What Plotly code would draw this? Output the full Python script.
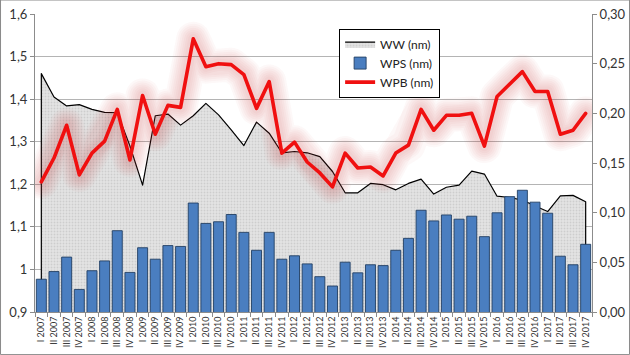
import plotly.graph_objects as go

quarters = [
    "I 2007", "II 2007", "III 2007", "IV 2007",
    "I 2008", "II 2008", "III 2008", "IV 2008",
    "I 2009", "II 2009", "III 2009", "IV 2009",
    "I 2010", "II 2010", "III 2010", "IV 2010",
    "I 2011", "II 2011", "III 2011", "IV 2011",
    "I 2012", "II 2012", "III 2012", "IV 2012",
    "I 2013", "II 2013", "III 2013", "IV 2013",
    "I 2014", "II 2014", "III 2014", "IV 2014",
    "I 2015", "II 2015", "III 2015", "IV 2015",
    "I 2016", "II 2016", "III 2016", "IV 2016",
    "I 2017", "II 2017", "III 2017", "IV 2017",
]

ww = [1.460, 1.405, 1.384, 1.387, 1.376, 1.369, 1.368, 1.290, 1.198, 1.361,
      1.365, 1.339, 1.361, 1.390, 1.363, 1.328, 1.291, 1.346, 1.320, 1.274,
      1.277, 1.274, 1.265, 1.230, 1.180, 1.180, 1.202, 1.199, 1.187, 1.202,
      1.212, 1.177, 1.193, 1.198, 1.231, 1.224, 1.172, 1.169, 1.163, 1.149,
      1.136, 1.173, 1.174, 1.159]

wps = [0.977, 0.995, 1.029, 0.953, 0.997, 1.020, 1.091, 0.993, 1.051, 1.024,
       1.056, 1.054, 1.156, 1.108, 1.112, 1.129, 1.087, 1.045, 1.087, 1.024,
       1.032, 1.013, 0.983, 0.961, 1.017, 0.992, 1.011, 1.009, 1.045, 1.073,
       1.139, 1.114, 1.128, 1.118, 1.125, 1.077, 1.133, 1.171, 1.186, 1.158,
       1.132, 1.031, 1.011, 1.059]

wpb = [0.131, 0.155, 0.188, 0.138, 0.160, 0.172, 0.204, 0.153, 0.218, 0.179,
       0.208, 0.206, 0.275, 0.247, 0.250, 0.249, 0.239, 0.205, 0.232, 0.160,
       0.171, 0.151, 0.140, 0.126, 0.160, 0.145, 0.146, 0.137, 0.160, 0.168,
       0.204, 0.183, 0.198, 0.198, 0.200, 0.167, 0.217, 0.230, 0.242, 0.222,
       0.222, 0.179, 0.183, 0.200]

LEFT_MIN, LEFT_MAX = 0.9, 1.6
RIGHT_MIN, RIGHT_MAX = 0.0, 0.30

FONT = "Lato"
fig = go.Figure()

# WW area (closed polygon down to the axis minimum)
fig.add_trace(go.Scatter(
    x=[quarters[0]] + quarters + [quarters[-1]],
    y=[LEFT_MIN] + ww + [LEFT_MIN],
    mode="lines", fill="toself", name="WW (nm)",
    line=dict(color="black", width=1.2),
    fillcolor="#e2e2e2",
    fillpattern=dict(shape=".", bgcolor="#e3e3e3", fgcolor="#b8b8b8",
                     size=3, solidity=0.3),
    xaxis="x", yaxis="y", hoverinfo="skip",
))

# WPS bars (left scale, drawn on an overlay so they sit above the area)
fig.add_trace(go.Bar(
    x=quarters, y=wps, name="WPS (nm)",
    marker=dict(color="#4a7ec0", line=dict(color="#233f63", width=0.9)),
    xaxis="x", yaxis="y2",
))

# WPB soft glow
for w in [34, 30, 26, 22, 18, 14, 10]:
    fig.add_trace(go.Scatter(
        x=quarters, y=wpb, mode="lines", showlegend=False, hoverinfo="skip",
        line=dict(color="rgba(205,45,45,0.035)", width=w),
        xaxis="x", yaxis="y3",
    ))

fig.add_trace(go.Scatter(
    x=quarters, y=wpb, mode="lines", name="WPB (nm)",
    line=dict(color="#f01010", width=3.6),
    xaxis="x", yaxis="y3",
))

axis_line = "#8c8c8c"
fig.update_layout(
    width=630, height=355,
    paper_bgcolor="white", plot_bgcolor="white",
    separators=", ",
    margin=dict(l=35, r=38, t=14, b=43, autoexpand=False),
    bargap=0.21,
    font=dict(family=FONT, color="#333333"),
    xaxis=dict(
        type="category", categoryorder="array", categoryarray=quarters,
        range=[-0.5, len(quarters) - 0.5],
        showline=True, linecolor=axis_line, linewidth=1,
        ticks="outside", tickson="boundaries", ticklen=4, tickcolor=axis_line,
        tickangle=-90, tickfont=dict(size=9, family=FONT, color="#333333"),
        showgrid=False,
    ),
    yaxis=dict(
        range=[LEFT_MIN, LEFT_MAX], tick0=LEFT_MIN, dtick=0.1,
        showgrid=True, gridcolor="#b4b4b4", gridwidth=1,
        showline=True, linecolor=axis_line, linewidth=1,
        ticks="outside", ticklen=4, tickcolor=axis_line,
        tickfont=dict(size=13, family=FONT, color="#333333"),
        zeroline=False,
    ),
    yaxis2=dict(
        range=[LEFT_MIN, LEFT_MAX], overlaying="y", visible=False,
    ),
    yaxis3=dict(
        range=[RIGHT_MIN, RIGHT_MAX], overlaying="y", side="right",
        tick0=0, dtick=0.05, tickformat=".2f",
        showgrid=False, zeroline=False,
        showline=True, linecolor=axis_line, linewidth=1,
        ticks="outside", ticklen=4, tickcolor=axis_line,
        tickfont=dict(size=13, family=FONT, color="#333333"),
    ),
    legend=dict(
        x=0.546, y=0.951, xanchor="left", yanchor="top",
        bgcolor="white", bordercolor="black", borderwidth=1,
        font=dict(size=12, family=FONT, color="#222222"),
        tracegroupgap=0, itemwidth=30,
    ),
    showlegend=True,
)

# outer chart border
fig.add_shape(type="rect", xref="paper", yref="paper",
              x0=-0.0619, x1=1.0673, y0=-0.1429, y1=1.047,
              line=dict(color="#8a8a8a", width=1), layer="above")

post = (
    "document.body.style.margin='0';"
    "document.body.style.overflow='hidden';"
    "document.querySelectorAll('.scatterlayer path.js-line').forEach("
    "function(p){p.style.strokeLinejoin='round';p.style.strokeLinecap='round';});"
)

fig.write_html("out.html", config={"displayModeBar": False}, post_script=post)
